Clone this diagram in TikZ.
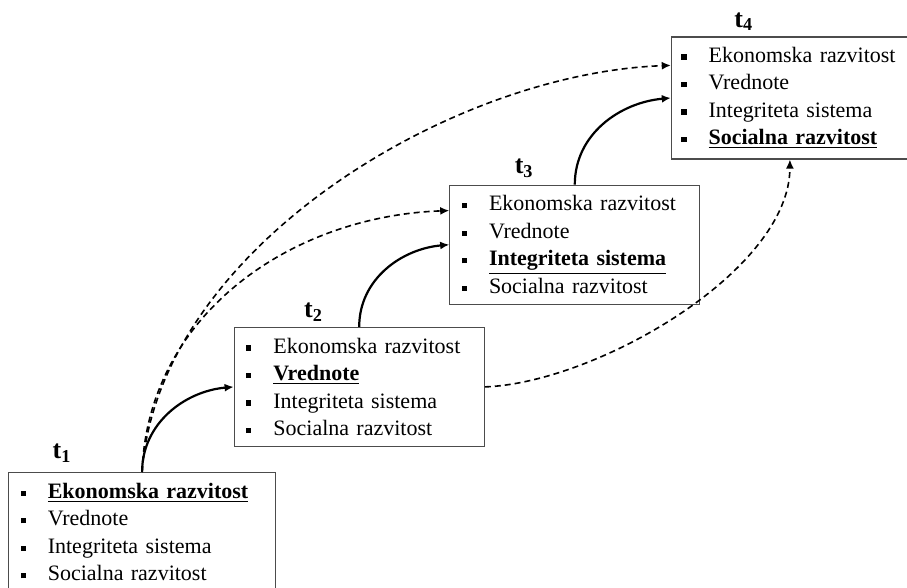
\documentclass[tikz,border=0pt]{standalone}
\usepackage{fontspec}
\setmainfont{Liberation Serif}
\usepackage{tikz}
\usetikzlibrary{positioning, arrows.meta}
\newcommand\itm{\rule[1.3pt]{2.6pt}{2.6pt}\hspace{11pt}}
\newcommand\cur[1]{\underline{\textbf{#1}}}
\tikzset{box/.style={draw=black!70, line width=0.6pt, rectangle, inner xsep=6pt, inner ysep=0pt, align=left, minimum height=59.5pt, font=\fontsize{11}{13.75}\selectfont},
  tlabel/.style={inner sep=0pt, font=\fontsize{13}{15}\selectfont\bfseries},
  every edge/.style={draw, -{Latex[length=4.5pt,width=4pt]}, line width=1.1pt},
  jump/.style={dash pattern=on 3pt off 2pt, line width=0.8pt}}

\begin{document}
\begin{tikzpicture}[x=0.5pt, y=-0.5pt]
            \useasboundingbox (0,0) rectangle (907,588);
            \node[box, text width=121.5pt, anchor=north west] (p1) at (8,472)
                {\itm\cur{Ekonomska razvitost}\\ \itm Vrednote\\ \itm Integriteta sistema\\ \itm Socialna razvitost};
            \node[box, text width=113pt, above right=12.5pt and 45.75pt of p1.north] (p2)
                {\itm Ekonomska razvitost\\ \itm\cur{Vrednote}\\ \itm Integriteta sistema\\ \itm Socialna razvitost};
            \node[box, text width=113pt, above right=11pt and 45pt of p2.north] (p3)
                {\itm Ekonomska razvitost\\ \itm Vrednote\\ \itm\cur{Integriteta sistema}\\ \itm Socialna razvitost};
            \node[box, text width=108.5pt, inner xsep=5pt, minimum height=61pt, above right=12.5pt and 48pt of p3.north] (p4)
                {\itm Ekonomska razvitost\\ \itm Vrednote\\ \itm Integriteta sistema\\ \itm\cur{Socialna razvitost}};

            \node[tlabel, above=4.5pt of p1.north west, xshift=27pt] (t1) {t\textsubscript{1}};
            \node[tlabel, above=2.5pt of p2.north west, xshift=40pt] (t2) {t\textsubscript{2}};
            \node[tlabel, above=3.5pt of p3.north west, xshift=37.5pt] (t3) {t\textsubscript{3}};
            \node[tlabel, above=2.5pt of p4.north west, xshift=36.5pt] (t4) {t\textsubscript{4}};

            \draw   (p1.north) edge[out=90, in=185] (p2.west)
                    (p2.north) edge[out=90, in=185] (p3.west)
                    (p3.north) edge[out=90, in=185] (p4.west)
                    (p1.north) edge[jump, out=88, in=182] ([yshift=-13pt]p3.north west)
                    (p1.north) edge[jump, out=86, in=182, looseness=0.85] ([yshift=-14.5pt]p4.north west)
                    (p2.east) edge[jump, out=2, in=-90, looseness=0.75] (p4.south);
        \end{tikzpicture}
\end{document}
